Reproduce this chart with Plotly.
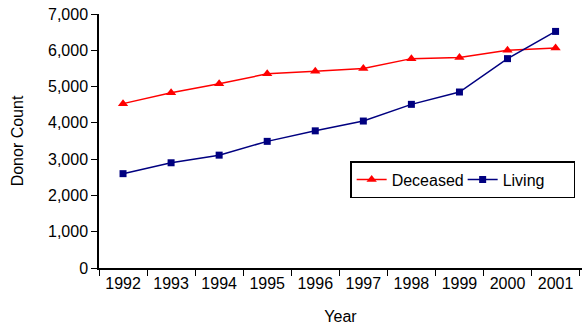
import plotly.graph_objects as go

years = ["1992", "1993", "1994", "1995", "1996", "1997", "1998", "1999", "2000", "2001"]
deceased = [4530, 4830, 5080, 5350, 5420, 5500, 5770, 5800, 6000, 6060]
living = [2600, 2900, 3110, 3490, 3780, 4050, 4510, 4850, 5770, 6520]
y_ticks = [0, 1000, 2000, 3000, 4000, 5000, 6000, 7000]
y_tick_labels = ["0", "1,000", "2,000", "3,000", "4,000", "5,000", "6,000", "7,000"]

fig = go.Figure()
fig.add_trace(go.Scatter(x=years, y=deceased, name="Deceased", mode="lines+markers",
                         line=dict(color="#FF0000", width=1.5),
                         marker=dict(symbol="triangle-up", size=9, color="#FF0000")))
fig.add_trace(go.Scatter(x=years, y=living, name="Living", mode="lines+markers",
                         line=dict(color="#000080", width=1.5),
                         marker=dict(symbol="square", size=7, color="#000080")))

font = dict(family="Liberation Sans, Arial, sans-serif", size=16, color="#000000")
fig.update_layout(
    width=582, height=325,
    margin=dict(l=99, r=0, t=14, b=57, autoexpand=False),
    paper_bgcolor="white", plot_bgcolor="white",
    font=font,
    showlegend=True,
    legend=dict(orientation="h", x=0.52, y=0.421, xanchor="left", yanchor="top",
                bordercolor="#000000", borderwidth=1.5, bgcolor="white",
                font=dict(family="Liberation Sans, Arial, sans-serif", size=16),
                entrywidth=66, entrywidthmode="pixels",
                itemwidth=30, tracegroupgap=0),
    xaxis=dict(type="category", range=[-0.5, 9.55], autorange=False, showgrid=False, automargin=False,
               showline=True, linecolor="#000000", linewidth=1.5,
               ticks="outside", tickson="boundaries", ticklen=6, tickcolor="#000000",
               ticklabeloverflow="allow",
               title=dict(text="Year", font=dict(size=16), standoff=22)),
    yaxis=dict(range=[0, 7000], autorange=False, tickvals=y_ticks, ticktext=y_tick_labels, automargin=False,
               showgrid=False, zeroline=False, showline=True, linecolor="#000000", linewidth=1.5,
               ticks="outside", ticklen=6, tickcolor="#000000",
               ticklabeloverflow="allow",
               title=dict(text="Donor Count", font=dict(size=16), standoff=20)),
)
fig.write_html("out.html", config={"displayModeBar": False},
               post_script="document.body.style.margin='0';")
